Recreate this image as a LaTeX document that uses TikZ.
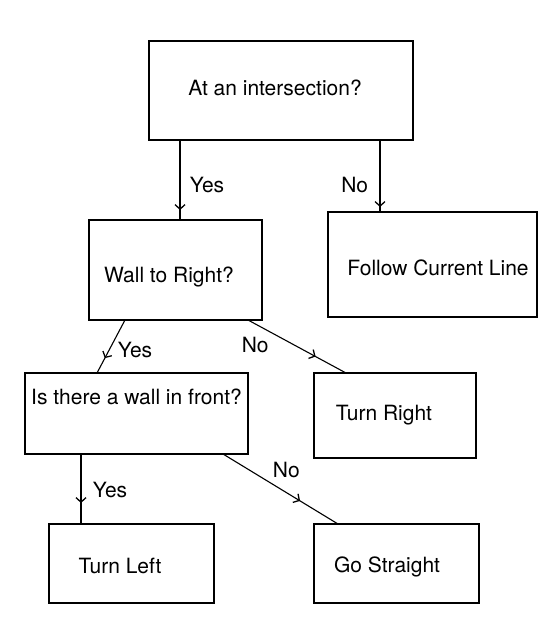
\documentclass[tikz,border=0pt]{standalone}
\usepackage{fontspec}
\setmainfont{TeX Gyre Heros}
\usetikzlibrary{arrows.meta,decorations.markings}

\begin{document}
\begin{tikzpicture}[x=1pt,y=-1pt,
  box/.style={draw,line width=1.1pt,outer sep=0pt,inner sep=0pt},
  flow/.style={draw,line width=1.1pt,postaction={decorate},
    decoration={markings,mark=at position #1 with {\arrow{Straight Barb[length=4.5pt,width=10pt,line width=1.3pt]}}}},
  font=\fontsize{21}{25}\selectfont]
\useasboundingbox (0,0) rectangle (555,644);
\node[box,minimum width=264,minimum height=99,label={[xshift=-6,yshift=2.5]center:At an intersection?}] (top) at (281,90.5) {};
\node[box,minimum width=173,minimum height=100,label={[xshift=-6.5,yshift=-7]center:Wall to Right?}] (wall) at (175.5,270) {};
\node[box,minimum width=209,minimum height=105,label={[xshift=5.5,yshift=-3.5]center:Follow Current Line}] (follow) at (432.5,264.5) {};
\node[box,minimum width=223,minimum height=81,label={[yshift=16.5]center:Is there a wall in front?}] (isthere) at (136.5,413.5) {};
\node[box,minimum width=162,minimum height=85,label={[xshift=-11]center:Turn Right}] (turnright) at (395,415.5) {};
\node[box,minimum width=165,minimum height=79,label={[xshift=-11.5,yshift=-2.5]center:Turn Left}] (turnleft) at (131.5,563.5) {};
\node[box,minimum width=165,minimum height=79,label={[xshift=-9.5,yshift=-3.5]center:Go Straight}] (gostraight) at (396.5,563.5) {};
\draw[flow=0.875] ([xshift=31pt]top.south west) -- node[pos=0.56,right=6pt] {Yes} ([xshift=91pt]wall.north west);
\draw[flow=0.93] ([xshift=231pt]top.south west) -- node[pos=0.625,left=8pt] {No} ([xshift=52pt]follow.north west);
\draw[flow=0.72] ([xshift=36pt]wall.south west) -- node[pos=0.57,right=5pt] {Yes} ([xshift=72pt]isthere.north west);
\draw[flow=0.69] ([xshift=-14pt]wall.south east) -- node[pos=0.25,below left=0pt] {No} ([xshift=32pt]turnright.north west);
\draw[flow=0.7] ([xshift=56pt]isthere.south west) -- node[pos=0.51,right=8pt] {Yes} ([xshift=32pt]turnleft.north west);
\draw[flow=0.67] ([xshift=-25pt]isthere.south east) -- node[pos=0.4,above right=0pt] {No} ([xshift=24pt]gostraight.north west);
\end{tikzpicture}
\end{document}
